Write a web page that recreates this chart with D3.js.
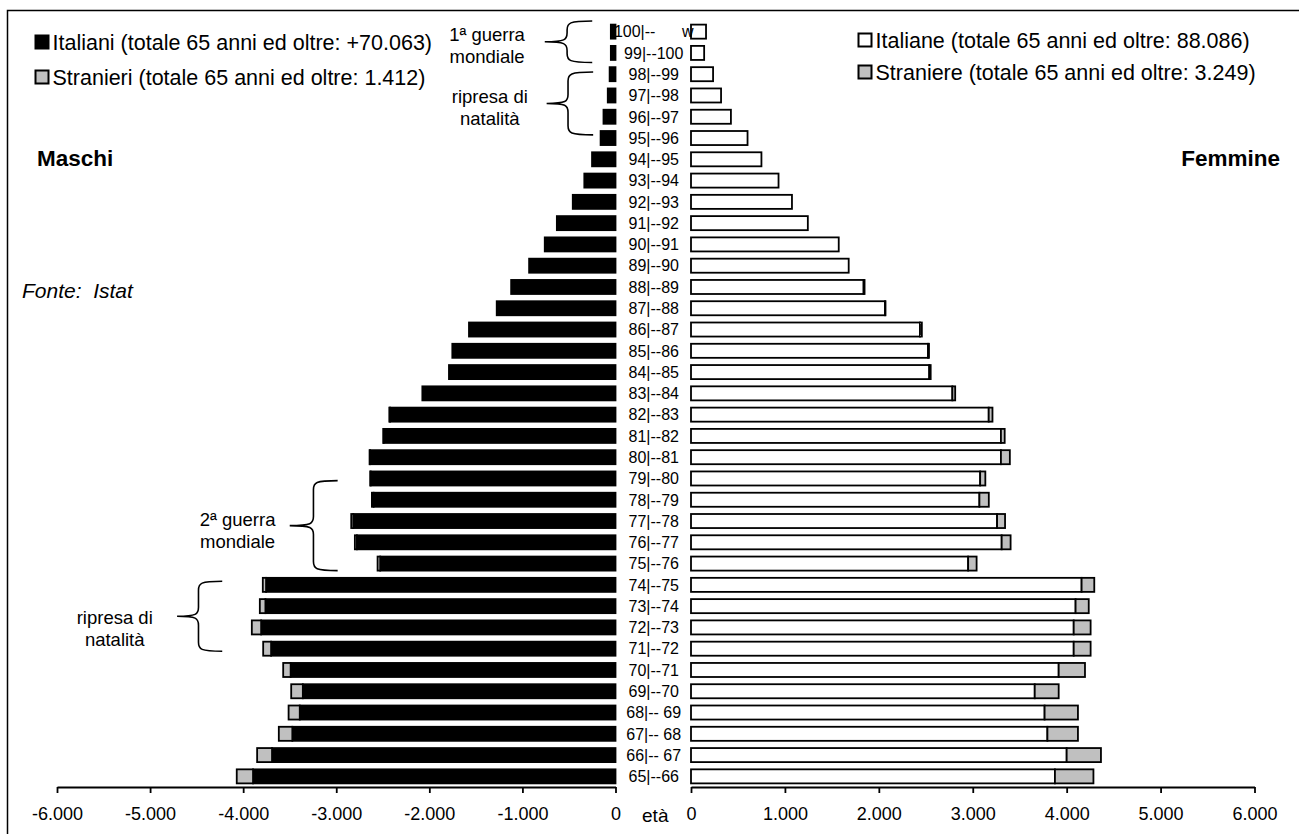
<!DOCTYPE html>
<html><head><meta charset="utf-8">
<script src="https://cdn.jsdelivr.net/npm/d3@7"></script>
<style>
body{margin:0;background:#fff}
text{font-family:Arial,"Liberation Sans",sans-serif;fill:#000}
</style>
</head><body>
<svg id="chart" width="1299" height="834"></svg>
<script>
// ---- DATA ----
const ages = [100,99,98,97,96,95,94,93,92,91,90,89,88,87,86,85,84,83,82,81,80,79,78,77,76,75,74,73,72,71,70,69,68,67,66,65];
const ageLabels = ["100|--      w","99|--100","98|--99","97|--98","96|--97","95|--96","94|--95","93|--94","92|--93","91|--92","90|--91","89|--90","88|--89","87|--88","86|--87","85|--86","84|--85","83|--84","82|--83","81|--82","80|--81","79|--80","78|--79","77|--78","76|--77","75|--76","74|--75","73|--74","72|--73","71|--72","70|--71","69|--70","68|-- 69","67|-- 68","66|-- 67","65|--66"];
const maleItaliani = [50,50,63,83,129,160,252,335,459,630,760,928,1121,1276,1574,1753,1789,2075,2422,2490,2637,2630,2599,2817,2778,2528,3754,3761,3807,3700,3490,3359,3392,3472,3690,3894];
const maleStranieri = [0,0,0,0,0,0,0,0,0,0,0,0,0,0,0,0,0,0,8,5,5,5,18,22,22,28,35,60,100,85,80,125,120,145,160,175];
const femaleItaliane = [160,140,235,320,425,602,750,932,1075,1244,1573,1679,1838,2066,2438,2524,2537,2783,3170,3300,3300,3079,3071,3259,3308,2951,4159,4095,4075,4075,3915,3660,3765,3795,4000,3875];
const femaleStraniere = [0,0,0,0,0,0,0,0,0,0,0,0,10,5,20,10,15,30,40,40,95,55,100,85,95,90,135,140,180,180,280,255,355,325,365,410];
const tickValues = [0,1000,2000,3000,4000,5000,6000];
const legendMale = ["Italiani (totale 65 anni ed oltre: +70.063)","Stranieri (totale 65 anni ed oltre: 1.412)"];
const legendFemale = ["Italiane (totale 65 anni ed oltre: 88.086)","Straniere (totale 65 anni ed oltre: 3.249)"];
const braceNotes = [
  {lines:["1ª guerra","mondiale"], ageTop:100.5, ageBot:98.55, tip:760, mid:520, end:250, text:1380, shift:0},
  {lines:["ripresa di","natalità"], ageTop:98.1, ageBot:95.15, tip:740, mid:510, end:240, text:1350, shift:0},
  {lines:["2ª guerra","mondiale"], ageTop:78.9, ageBot:74.67, tip:3500, mid:3245, end:2985, text:4060, shift:1},
  {lines:["ripresa di","natalità"], ageTop:74.17, ageBot:70.88, tip:4710, mid:4480, end:4225, text:5380, shift:8}
];

const BLACK="#000", GRAY="#c0c0c0", WHITE="#fff";
const svg = d3.select("#chart");

const it = d3.formatLocale({decimal:",", thousands:".", grouping:[3], currency:["€",""], minus:"-"});
const fmt = it.format(",d");

// scales
const xL = d3.scaleLinear().domain([-6000,0]).range([57,615.5]);
const xR = d3.scaleLinear().domain([0,6000]).range([691,1254.5]);
const y = d3.scaleBand().domain(ages).range([21,787]).paddingInner(0.34).paddingOuter(0.17);
const yAge = d3.scaleLinear().domain([100,65]).range([y(100)+y.bandwidth()/2, y(65)+y.bandwidth()/2]);

// frame
svg.append("rect").attr("x",7.5).attr("y",10.5).attr("width",1310).attr("height",850)
  .attr("fill","none").attr("stroke",BLACK).attr("stroke-width",1.5);

const rows = ages.map((a,i)=>({age:a,label:ageLabels[i],mi:maleItaliani[i],ms:maleStranieri[i],fi:femaleItaliane[i],fs:femaleStraniere[i]}));
const sw = 1.8;

// male bars
const g = svg.append("g");
g.selectAll(".mi").data(rows).join("rect")
  .attr("x",d=>xL(-d.mi)).attr("width",d=>xL(0)-xL(-d.mi))
  .attr("y",d=>y(d.age)).attr("height",y.bandwidth())
  .attr("fill",BLACK).attr("stroke",BLACK).attr("stroke-width",sw);
g.selectAll(".ms").data(rows.filter(d=>d.ms>0)).join("rect")
  .attr("x",d=>xL(-(d.mi+d.ms))).attr("width",d=>xL(-d.mi)-xL(-(d.mi+d.ms)))
  .attr("y",d=>y(d.age)).attr("height",y.bandwidth())
  .attr("fill",GRAY).attr("stroke",BLACK).attr("stroke-width",sw);
// female bars
g.selectAll(".fi").data(rows).join("rect")
  .attr("x",xR(0)).attr("width",d=>xR(d.fi)-xR(0))
  .attr("y",d=>y(d.age)).attr("height",y.bandwidth())
  .attr("fill",WHITE).attr("stroke",BLACK).attr("stroke-width",sw);
g.selectAll(".fs").data(rows.filter(d=>d.fs>0)).join("rect")
  .attr("x",d=>xR(d.fi)).attr("width",d=>xR(d.fi+d.fs)-xR(d.fi))
  .attr("y",d=>y(d.age)).attr("height",y.bandwidth())
  .attr("fill",GRAY).attr("stroke",BLACK).attr("stroke-width",sw);

// age labels
svg.selectAll(".lab").data(rows).join("text")
  .attr("x",(xL(0)+xR(0))/2+0.5).attr("y",d=>y(d.age)+y.bandwidth()/2)
  .attr("dy","0.36em").attr("text-anchor","middle")
  .style("font-size","16px").style("white-space","pre")
  .text(d=>d.label);

// axes
const axisY = 787;
const axL = d3.axisBottom(xL).tickValues(tickValues.map(v=>-v)).tickFormat(fmt).tickSize(6).tickSizeOuter(0);
const axR = d3.axisBottom(xR).tickValues(tickValues).tickFormat(fmt).tickSize(6).tickSizeOuter(0);
[axL,axR].forEach(ax=>{
  const a = svg.append("g").attr("transform",`translate(0,${axisY})`).call(ax);
  a.select(".domain").attr("stroke",BLACK).attr("stroke-width",1.8);
  a.selectAll(".tick line").attr("stroke",BLACK).attr("stroke-width",1.8);
  a.selectAll(".tick text").attr("y",33).attr("dy",0).style("font-size","18px")
   .style("font-family","Arial, 'Liberation Sans', sans-serif").attr("fill",BLACK);
});
svg.append("text").attr("x",(xL(0)+xR(0))/2+2).attr("y",axisY+35).attr("text-anchor","middle")
  .style("font-size","19px").text("età");

// legends
function legend(x, ys, texts, fills){
  texts.forEach((t,i)=>{
    svg.append("rect").attr("x",x).attr("y",ys[i]-6.5).attr("width",13).attr("height",13)
      .attr("fill",fills[i]).attr("stroke",BLACK).attr("stroke-width",2);
    svg.append("text").attr("x",x+17).attr("y",ys[i]+7.5).style("font-size","21.5px").text(t);
  });
}
legend(35.5,[42,77],legendMale,[BLACK,GRAY]);
legend(858.5,[40,72],legendFemale,[WHITE,GRAY]);

svg.append("text").attr("x",37).attr("y",166).style("font-size","22.5px").style("font-weight","bold").text("Maschi");
svg.append("text").attr("x",1280).attr("y",166).attr("text-anchor","end").style("font-size","22.5px").style("font-weight","bold").text("Femmine");
svg.append("text").attr("x",22).attr("y",298).style("font-size","21px").style("font-style","italic").style("white-space","pre").text("Fonte:  Istat");

// braces
function bracePath(xt,xm,xe,y0,y1){
  const ym=(y0+y1)/2, r=Math.min(9,(y1-y0)/4);
  return `M${xe},${y0} C${xm+2},${y0} ${xm},${y0+2} ${xm},${y0+r}`+
    ` L${xm},${ym-r} C${xm},${ym-2} ${xm-2},${ym} ${xt},${ym}`+
    ` C${xm-2},${ym} ${xm},${ym+2} ${xm},${ym+r}`+
    ` L${xm},${y1-r} C${xm},${y1-2} ${xm+2},${y1} ${xe},${y1}`;
}
braceNotes.forEach(n=>{
  const y0=yAge(n.ageTop), y1=yAge(n.ageBot);
  svg.append("path").attr("d",bracePath(xL(-n.tip),xL(-n.mid),xL(-n.end),y0,y1))
    .attr("fill","none").attr("stroke",BLACK).attr("stroke-width",1.6);
  const ym=(y0+y1)/2;
  n.lines.forEach((t,i)=>{
    svg.append("text").attr("x",xL(-n.text)).attr("y",ym-0.5+n.shift+i*22).attr("text-anchor","middle")
      .style("font-size","18.5px").text(t);
  });
});
</script>
</body></html>
